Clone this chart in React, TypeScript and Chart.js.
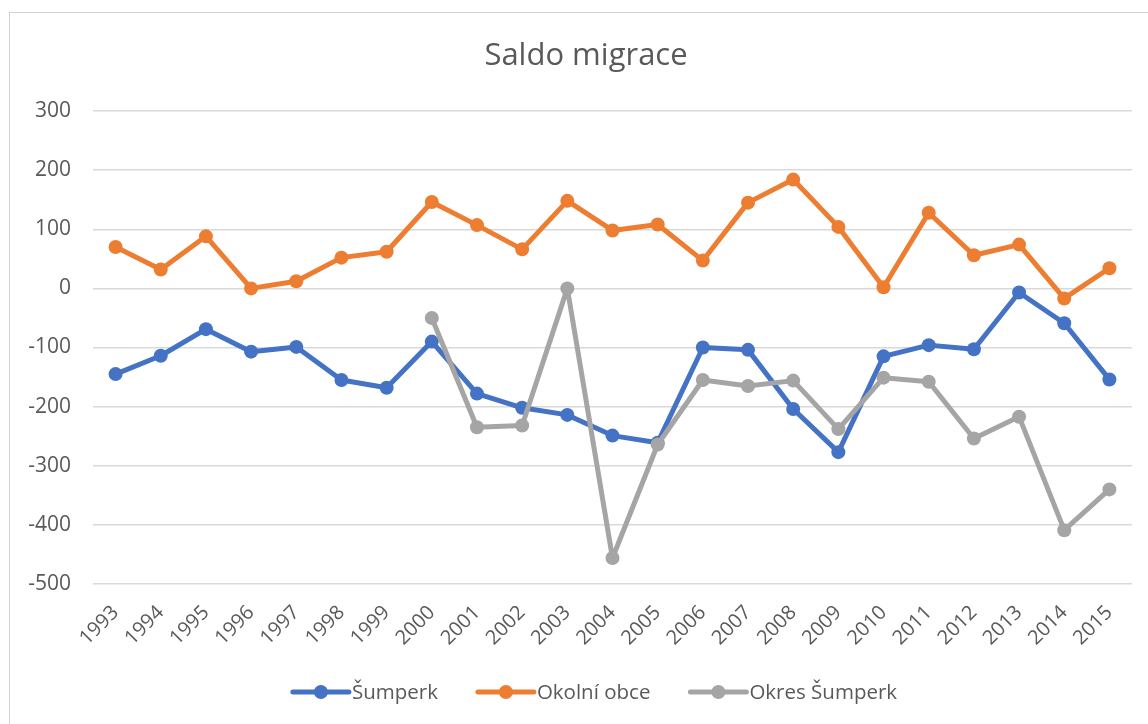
import React, { useEffect, useRef } from "react";
import { Chart, registerables } from "chart.js";

Chart.register(...registerables);

const years = ["1993","1994","1995","1996","1997","1998","1999","2000","2001","2002","2003","2004","2005","2006","2007","2008","2009","2010","2011","2012","2013","2014","2015"];
const sumperk = [-145,-114,-69,-107,-99,-155,-168,-90,-178,-202,-214,-249,-261,-100,-104,-204,-277,-115,-96,-103,-7,-59,-154];
const okolniObce = [70,32,88,0,12,52,62,146,107,66,148,98,108,47,145,184,104,2,128,56,74,-17,34];
const okresSumperk = [null,null,null,null,null,null,null,-50,-235,-232,0,-456,-264,-155,-165,-156,-238,-151,-158,-254,-217,-409,-340];

const TITLE = "Saldo migrace";
const FONT = "'Open Sans', sans-serif";
const TEXT = "#595959";

const seriesNames = ["Šumperk", "Okolní obce", "Okres Šumperk"];
const seriesColors = ["#4472C4", "#ED7D31", "#A5A5A5"];

const overlayPlugin = {
  id: "overlay",
  afterDraw(chart: any) {
    const ctx = chart.ctx as CanvasRenderingContext2D;
    ctx.save();
    // title
    ctx.fillStyle = TEXT;
    ctx.font = `31px ${FONT}`;
    ctx.textAlign = "center";
    ctx.textBaseline = "alphabetic";
    ctx.fillText(TITLE, 586, 65);
    // legend
    ctx.font = `20.5px ${FONT}`;
    const lineW = 56;
    const gapText = 3;
    const gapItem = 40;
    const widths = seriesNames.map((n) => ctx.measureText(n).width);
    const total = widths.reduce((a, w) => a + lineW + gapText + w, 0) + gapItem * (seriesNames.length - 1);
    let x = 595 - total / 2;
    const y = 692;
    ctx.textAlign = "left";
    ctx.textBaseline = "middle";
    seriesNames.forEach((n, i) => {
      ctx.strokeStyle = seriesColors[i];
      ctx.lineWidth = 5;
      ctx.lineCap = "round";
      ctx.beginPath();
      ctx.moveTo(x, y);
      ctx.lineTo(x + lineW, y);
      ctx.stroke();
      ctx.fillStyle = seriesColors[i];
      ctx.beginPath();
      ctx.arc(x + lineW / 2, y, 7, 0, Math.PI * 2);
      ctx.fill();
      ctx.fillStyle = TEXT;
      ctx.fillText(n, x + lineW + gapText, y + 1);
      x += lineW + gapText + widths[i] + gapItem;
    });
    ctx.restore();
  },
};

export default function App() {
  const ref = useRef<HTMLCanvasElement | null>(null);
  useEffect(() => {
    if (!ref.current) return;
    const mk = (label: string, data: (number | null)[], color: string, order: number) => ({
      label,
      data,
      borderColor: color,
      backgroundColor: color,
      pointBackgroundColor: color,
      pointBorderColor: color,
      borderWidth: 5,
      borderJoinStyle: "round" as const,
      borderCapStyle: "round" as const,
      pointRadius: 7,
      pointBorderWidth: 0,
      tension: 0,
      spanGaps: false,
      order,
    });
    const chart = new Chart(ref.current, {
      type: "line",
      data: {
        labels: years,
        datasets: [
          mk(seriesNames[0], sumperk, seriesColors[0], 2),
          mk(seriesNames[1], okolniObce, seriesColors[1], 1),
          mk(seriesNames[2], okresSumperk, seriesColors[2], 0),
        ],
      },
      options: {
        responsive: false,
        animation: false,
        layout: { padding: { top: 111, right: 16, left: 0, bottom: 0 } },
        plugins: {
          legend: { display: false },
          title: { display: false },
          tooltip: { enabled: false },
        },
        scales: {
          x: {
            offset: true,
            grid: { display: false, drawTicks: false },
            border: { display: false },
            ticks: {
              color: TEXT,
              font: { family: FONT, size: 20 },
              minRotation: 45,
              maxRotation: 45,
              padding: 17,
              autoSkip: false,
            },
            afterFit(scale: any) {
              scale.height = 140;
            },
          },
          y: {
            min: -500,
            max: 300,
            grid: { color: "#d9d9d9", lineWidth: 1.5, drawTicks: false },
            border: { display: false },
            ticks: {
              stepSize: 100,
              color: TEXT,
              font: { family: FONT, size: 21 },
              padding: 22,
            },
            afterFit(scale: any) {
              scale.width = 93;
            },
          },
        },
      },
      plugins: [overlayPlugin],
    });
    return () => chart.destroy();
  }, []);
  return (
    <div style={{ position: "fixed", left: 0, top: 0, width: 1148, height: 724, background: "#fff", overflow: "hidden" }}>
      <div style={{ position: "absolute", left: 9, top: 12, width: 1160, height: 740, border: "1px solid #d3d3d3", boxSizing: "border-box" }} />
      <canvas ref={ref} width={1148} height={724} style={{ position: "absolute", left: 0, top: 0 }} />
    </div>
  );
}
